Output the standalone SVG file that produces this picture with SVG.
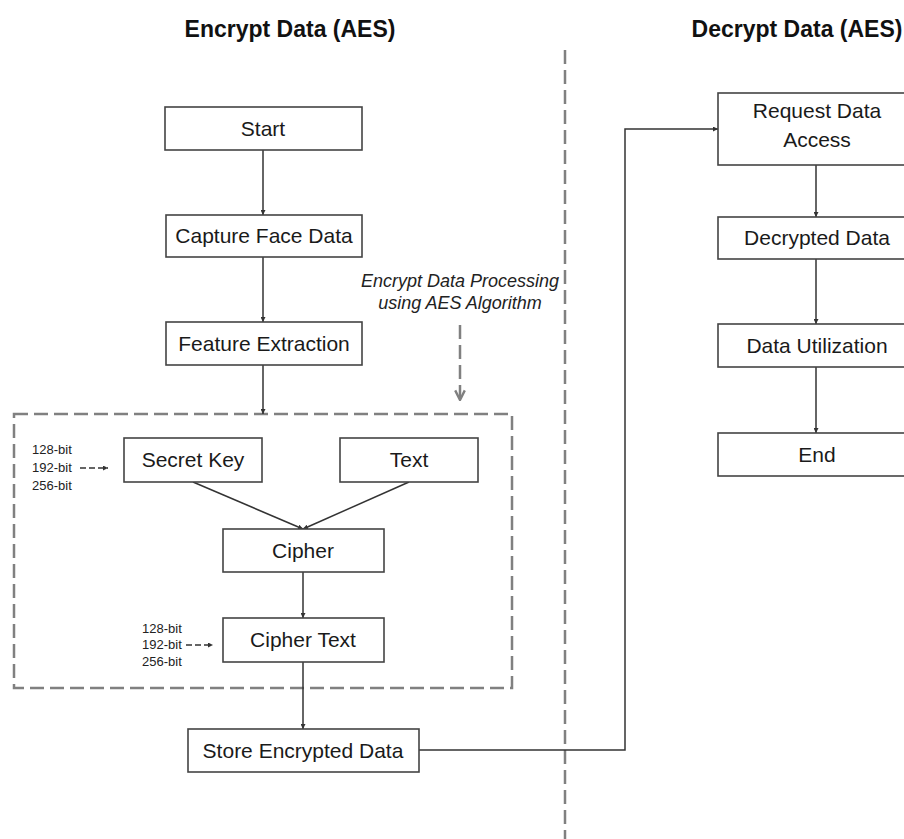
<svg xmlns="http://www.w3.org/2000/svg" width="904" height="839" viewBox="0 0 904 839">
<style>
.box{fill:#fff;stroke:#444;stroke-width:1.6}
.lbl{font-family:"Liberation Sans",Arial,sans-serif;font-size:21px;fill:#1a1a1a;text-anchor:middle}
.title{font-family:"Liberation Sans",Arial,sans-serif;font-size:23px;font-weight:bold;fill:#111;text-anchor:middle}
.small{font-family:"Liberation Sans",Arial,sans-serif;font-size:13px;fill:#222}
.note{font-family:"Liberation Sans",Arial,sans-serif;font-size:18px;font-style:italic;fill:#222;text-anchor:middle}
.con{fill:none;stroke:#333;stroke-width:1.5}
.dash{fill:none;stroke:#808080;stroke-width:2.5;stroke-dasharray:14 6}
.sdash{fill:none;stroke:#333;stroke-width:1.3;stroke-dasharray:6 3}
</style>
<defs>
<marker id="arr" viewBox="0 0 10 10" refX="10" refY="5" markerWidth="5" markerHeight="5" orient="auto" markerUnits="userSpaceOnUse">
<path d="M0,0 L10,5 L0,10 z" fill="#333"/>
</marker>
<marker id="garr" viewBox="0 0 10 10" refX="9" refY="5" markerWidth="12" markerHeight="12" orient="auto" markerUnits="userSpaceOnUse">
<path d="M1,1 L9,5 L1,9" fill="none" stroke="#808080" stroke-width="2"/>
</marker>
</defs>
<rect width="904" height="839" fill="#fff"/>
<text class="title" x="290" y="37">Encrypt Data (AES)</text>
<text class="title" x="797" y="37">Decrypt Data (AES)</text>
<line id="divider" class="dash" x1="565" y1="50" x2="565" y2="839" stroke-width="2.2"/>
<rect id="aes-region" class="dash" x="14" y="414" width="498" height="274"/>
<g id="note">
<text class="note" x="460" y="287">Encrypt Data Processing</text>
<text class="note" x="460" y="309">using AES Algorithm</text>
<line class="dash" x1="460" y1="325" x2="460" y2="400" stroke-width="2" stroke-dasharray="12 5" marker-end="url(#garr)"/>
</g>
<g id="connectors">
<line class="con" x1="263" y1="150" x2="263" y2="215" marker-end="url(#arr)"/>
<line class="con" x1="263" y1="257" x2="263" y2="322" marker-end="url(#arr)"/>
<line class="con" x1="263" y1="365" x2="263" y2="414" marker-end="url(#arr)"/>
<line class="con" x1="193" y1="482" x2="303" y2="529" marker-end="url(#arr)"/>
<line class="con" x1="409" y1="482" x2="303" y2="529" marker-end="url(#arr)"/>
<line class="con" x1="303" y1="572" x2="303" y2="618" marker-end="url(#arr)"/>
<line class="con" x1="303" y1="662" x2="303" y2="729" marker-end="url(#arr)"/>
<path class="con" d="M419,750 L625,750 L625,129 L718,129" marker-end="url(#arr)"/>
<line class="con" x1="816" y1="165" x2="816" y2="217" marker-end="url(#arr)"/>
<line class="con" x1="816" y1="259" x2="816" y2="324" marker-end="url(#arr)"/>
<line class="con" x1="816" y1="367" x2="816" y2="433" marker-end="url(#arr)"/>
<line class="sdash" x1="80" y1="468" x2="108" y2="468" marker-end="url(#arr)"/>
<line class="sdash" x1="186" y1="645" x2="213" y2="645" marker-end="url(#arr)"/>
</g>
<g id="start"><rect class="box" x="165" y="107" width="197" height="43"/><text class="lbl" x="263" y="136">Start</text></g>
<g id="capture"><rect class="box" x="166" y="215" width="196" height="42"/><text class="lbl" x="264" y="243">Capture Face Data</text></g>
<g id="feature"><rect class="box" x="166" y="322" width="196" height="43"/><text class="lbl" x="264" y="351">Feature Extraction</text></g>
<g id="secret-key"><rect class="box" x="124" y="438" width="138" height="44"/><text class="lbl" x="193" y="467">Secret Key</text></g>
<g id="text"><rect class="box" x="340" y="438" width="138" height="44"/><text class="lbl" x="409" y="467">Text</text></g>
<g id="cipher"><rect class="box" x="223" y="529" width="161" height="43"/><text class="lbl" x="303" y="558">Cipher</text></g>
<g id="cipher-text"><rect class="box" x="223" y="618" width="161" height="44"/><text class="lbl" x="303" y="647">Cipher Text</text></g>
<g id="store"><rect class="box" x="188" y="729" width="231" height="43"/><text class="lbl" x="303" y="758">Store Encrypted Data</text></g>
<g id="key-sizes"><text class="small" x="32" y="454">128-bit</text><text class="small" x="32" y="472">192-bit</text><text class="small" x="32" y="490">256-bit</text></g>
<g id="cipher-sizes"><text class="small" x="142" y="633">128-bit</text><text class="small" x="142" y="649">192-bit</text><text class="small" x="142" y="666">256-bit</text></g>
<g id="request"><rect class="box" x="718" y="93" width="198" height="72"/><text class="lbl" x="817" y="118">Request Data</text><text class="lbl" x="817" y="147">Access</text></g>
<g id="decrypted"><rect class="box" x="718" y="217" width="198" height="42"/><text class="lbl" x="817" y="245">Decrypted Data</text></g>
<g id="utilization"><rect class="box" x="718" y="324" width="198" height="43"/><text class="lbl" x="817" y="353">Data Utilization</text></g>
<g id="end"><rect class="box" x="718" y="433" width="198" height="43"/><text class="lbl" x="817" y="462">End</text></g>
</svg>
